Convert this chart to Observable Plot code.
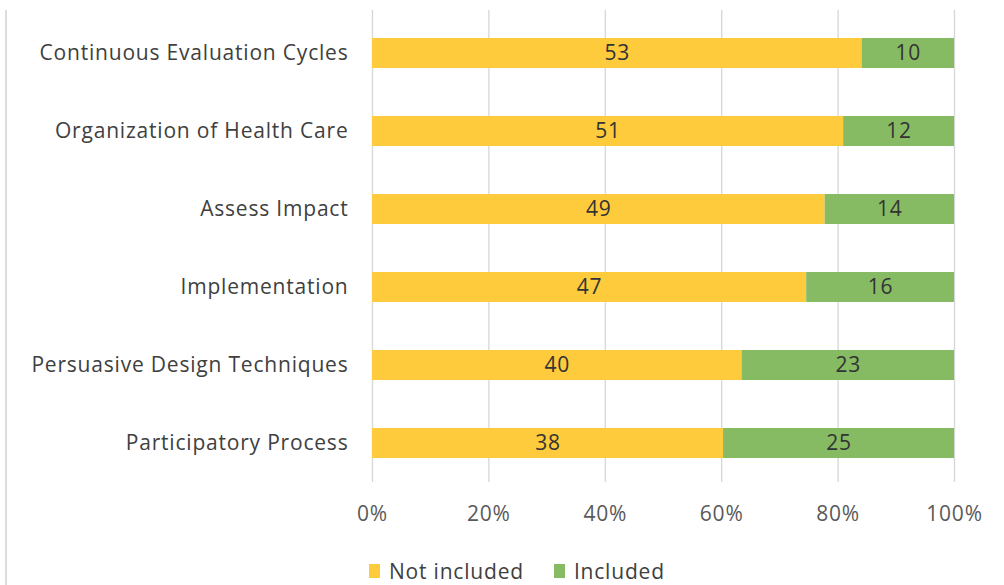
<!DOCTYPE html>
<html>
<head>
<meta charset="utf-8">
<script src="https://cdn.jsdelivr.net/npm/d3@7"></script>
<script src="https://cdn.jsdelivr.net/npm/@observablehq/plot@0.6"></script>
<style>
  html, body { margin: 0; padding: 0; background: #fff; }
  #wrap { position: relative; width: 1004px; height: 585px; overflow: hidden; font-family: "Open Sans", "Noto Sans", sans-serif; background: #fff; }
  #chart { position: absolute; left: 0; top: 0; }
  #leftline { position: absolute; left: 5px; top: 10px; width: 0; height: 575px; border-left: 2px solid #dcdcdc; z-index: 2; }
  #legend { position: absolute; left: 369px; top: 560px; font-size: 21px; line-height: 22px; letter-spacing: 0.8px; color: #404040; display: flex; align-items: center; white-space: nowrap; z-index: 2; }
  .sw { display: inline-block; width: 11px; height: 14px; margin-right: 9px; }
</style>
</head>
<body>
<div id="wrap">
  <div id="chart"></div>
  <div id="leftline"></div>
  <div id="legend"></div>
</div>
<script>
const categories = [
  "Continuous Evaluation Cycles",
  "Organization of Health Care",
  "Assess Impact",
  "Implementation",
  "Persuasive Design Techniques",
  "Participatory Process"
];
const notIncluded = [53, 51, 49, 47, 40, 38];
const included = [10, 12, 14, 16, 23, 25];
const seriesNames = ["Not included", "Included"];
const seriesColors = ["#FDCB3C", "#86BB63"];
const xTicks = [0, 0.2, 0.4, 0.6, 0.8, 1];

const rows = [];
categories.forEach((c, i) => rows.push({category: c, status: seriesNames[0], value: notIncluded[i]}));
categories.forEach((c, i) => rows.push({category: c, status: seriesNames[1], value: included[i]}));

const stackOpts = {x: "value", y: "category", z: "status", offset: "normalize", order: seriesNames};

const chart = Plot.plot({
  width: 1004,
  height: 545,
  marginLeft: 372,
  marginRight: 50,
  marginTop: 10,
  marginBottom: 63,
  style: {fontFamily: "'Open Sans', 'Noto Sans', sans-serif", fontSize: "21px", color: "#404040", background: "transparent"},
  x: {domain: [0, 1], ticks: xTicks, tickFormat: d3.format(".0%"), tickSize: 0, tickPadding: 24, label: null},
  y: {domain: categories, paddingInner: 0.615, paddingOuter: 0.32, align: 0.54, tickSize: 0, tickPadding: 24, label: null},
  color: {domain: seriesNames, range: seriesColors},
  marks: [
    Plot.gridX(xTicks, {stroke: "#d6d6d6", strokeOpacity: 1, strokeWidth: 1.3}),
    Plot.barX(rows, Plot.stackX({...stackOpts, fill: "status", inset: 0})),
    Plot.text(rows, Plot.stackX({...stackOpts, text: d => String(d.value), fill: "#333333", fontSize: 21})),
    Plot.axisX({ticks: xTicks, tickFormat: d3.format(".0%"), tickSize: 0, tickPadding: 24, fill: "#595959", fontSize: 21, label: null}),
    Plot.axisY({tickSize: 0, tickPadding: 24, fill: "#404040", fontSize: 21, label: null})
  ]
});
chart.querySelectorAll("text").forEach(t => t.style.letterSpacing = "0.8px");
document.getElementById("chart").appendChild(chart);

const legend = document.getElementById("legend");
seriesNames.forEach((name, i) => {
  const item = document.createElement("span");
  item.style.display = "inline-flex";
  item.style.alignItems = "center";
  item.style.marginRight = i === 0 ? "30px" : "0";
  const sw = document.createElement("span");
  sw.className = "sw";
  sw.style.background = seriesColors[i];
  item.appendChild(sw);
  item.appendChild(document.createTextNode(name));
  legend.appendChild(item);
});
</script>
</body>
</html>
